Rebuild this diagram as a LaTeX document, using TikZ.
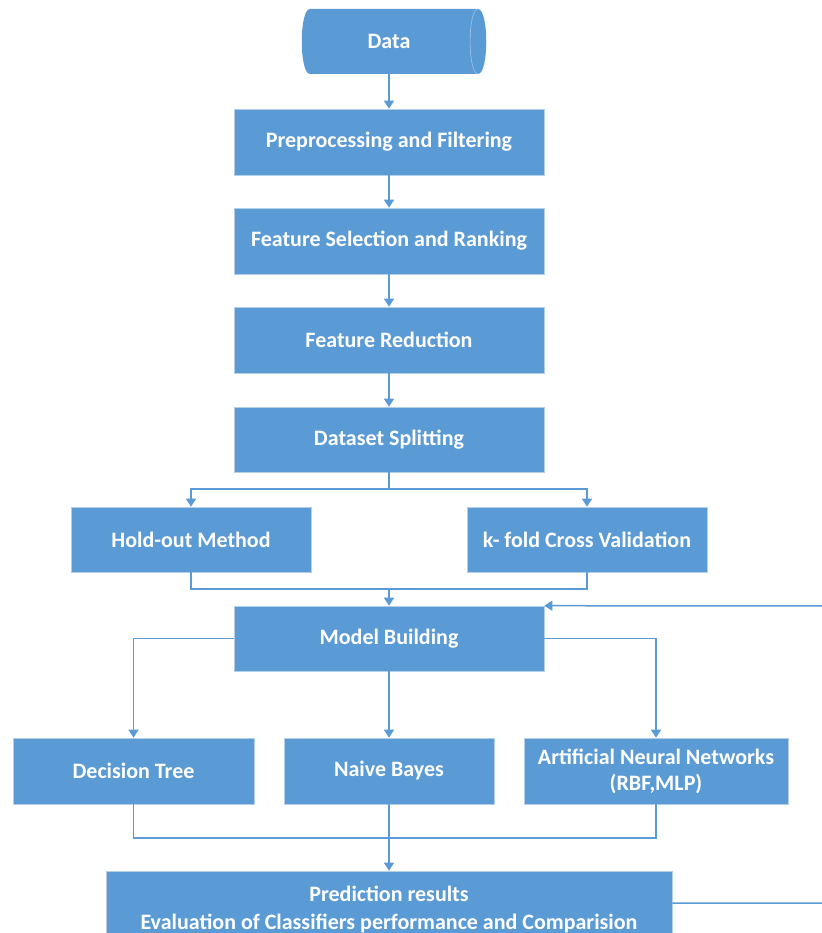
\documentclass[tikz,border=0pt]{standalone}
\usepackage{fontspec}
\setmainfont{Carlito}
\usetikzlibrary{arrows.meta}
\definecolor{boxblue}{HTML}{5B9BD5}
\definecolor{edgeblue}{HTML}{B4CFEC}
\definecolor{innerblue}{HTML}{9DC3E6}
\begin{document}
\begin{tikzpicture}[x=1pt,y=-1pt,
  box/.style={rectangle, fill=boxblue, draw=edgeblue, line width=0.6pt, text=white,
    font=\bfseries\fontsize{22}{26}\selectfont, align=center, inner sep=0pt},
  conn/.style={draw=boxblue, line width=1.5pt},
  arr/.style={conn, -{Triangle[width=10pt,length=8pt]}}]
\useasboundingbox (0,0) rectangle (821,933);

% Data cylinder
\fill[boxblue] (310,9) -- (478,9) .. controls (489,9) and (489,74) .. (478,74)
  -- (310,74) .. controls (299,74) and (299,9) .. (310,9);
\draw[innerblue, line width=0.6pt] (478,9) .. controls (467.5,9) and (467.5,74) .. (478,74);
\node[text=white, font=\bfseries\fontsize{22}{26}\selectfont, minimum height=65pt, inner sep=0pt] (data) at (389,41.5) {Data};

\node[box, minimum width=310pt, minimum height=66pt] (pre) at (389,142) {Preprocessing and Filtering};
\node[box, minimum width=310pt, minimum height=66pt] (fsel) at (389,241) {Feature Selection and Ranking};
\node[box, minimum width=310pt, minimum height=66pt] (fred) at (389,340) {Feature Reduction};
\node[box, minimum width=310pt, minimum height=65pt] (split) at (389,439.5) {Dataset Splitting};
\node[box, minimum width=240pt, minimum height=65pt] (hold) at (191,539.5) {Hold-out Method};
\node[box, minimum width=240pt, minimum height=65pt] (kfold) at (587,539.5) {k- fold Cross Validation};
\node[box, minimum width=310pt, minimum height=65pt] (model) at (389,638.5) {Model Building};
\node[box, minimum width=241pt, minimum height=66pt] (dt) at (133.5,771) {Decision Tree};
\node[box, minimum width=210pt, minimum height=66pt] (nb) at (389,771) {Naive Bayes};
\node[box, minimum width=264pt, minimum height=66pt] (ann) at (656,771) {Artificial Neural Networks\\(RBF,MLP)};
\node[box, minimum width=566pt, minimum height=76pt] (pred) at (389,909) {Prediction results\\[2pt]Evaluation of Classifiers performance and Comparision};

\coordinate (s1) at (389,489);
\coordinate (m1) at (389,589);
\coordinate (m2) at (389,838);
\coordinate (fb1) at (828,903);
\coordinate (fb2) at (828,606);

\draw[arr] (data.south) -- (pre.north);
\draw[arr] (pre.south) -- (fsel.north);
\draw[arr] (fsel.south) -- (fred.north);
\draw[arr] (fred.south) -- (split.north);
\draw[conn] (split.south) -- (s1);
\draw[arr] (s1) -| (hold.north);
\draw[arr] (s1) -| (kfold.north);
\draw[conn] (hold.south) |- (m1) -| (kfold.south);
\draw[arr] (m1) -- (model.north);
\draw[arr] (model.west) -| (dt.north);
\draw[arr] (model.east) -| (ann.north);
\draw[arr] (model.south) -- (nb.north);
\draw[conn] (dt.south) |- (m2) -| (ann.south);
\draw[arr] (nb.south) -- (pred.north);
\draw[arr] ([yshift=6pt]pred.east) -- (fb1) -- (fb2) -- (model.north east);
\end{tikzpicture}
\end{document}
